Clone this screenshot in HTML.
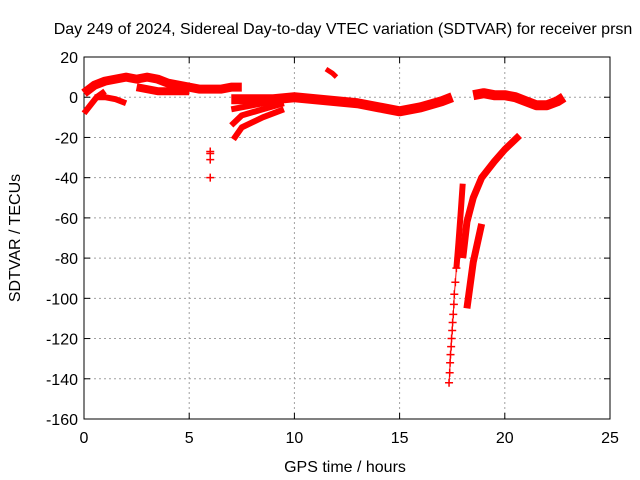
<!DOCTYPE html>
<html><head><meta charset="utf-8"><style>
body{margin:0;background:#fff}
svg{display:block;font-family:"Liberation Sans",sans-serif}
</style></head><body>
<svg id="c" width="640" height="480"></svg>
<script>
const xTicks=[0,5,10,15,20,25];
const yTicks=[20,0,-20,-40,-60,-80,-100,-120,-140,-160];
const upperT=[0,0.5,1,1.5,2,2.5,3,3.5,4,4.5,5,5.5,6,6.5,7,7.5];
const upperV=[2,6,8,9,10,9,10,9,7,6,5,4,4,4,5,5];
const lowUpT=[2.5,3,3.5,4,4.5,5];
const lowUpV=[5,4,3,3,3,3];
const branch1T=[0,0.3,0.6,1];
const branch1V=[-8,-4,0,3];
const branch2T=[0.5,1,1.5,2];
const branch2V=[0,0,-1,-3];
const mainT=[7,8,9,10,11,12,13,14,15,16,17,17.5];
const mainV=[-1,-1,-1,0,-1,-2,-3,-5,-7,-5,-2,0];
const fan1T=[7,8,9,10];
const fan1V=[-6,-4,-2,0];
const fan2T=[7,7.5,8.5,9.5];
const fan2V=[-14,-9,-6,-3];
const fan3T=[7.1,7.5,8.5,9.5];
const fan3V=[-21,-15,-10,-6];
const isoT=[11.5,11.8,12];
const isoV=[14,12,10];
const lateT=[18.5,19,19.5,20,20.5,21,21.5,22,22.5,22.8];
const lateV=[1,2,1,1,0,-2,-4,-4,-2,0];
const dotsT=[6,6,6,6];
const dotsV=[-27,-28,-31,-40];
const dipTopT=[18.0,17.9,17.8,17.7];
const dipTopV=[-43,-58,-72,-85];
const dipAT=[17.7,17.65,17.6,17.58,17.55,17.52,17.5,17.47,17.45,17.42,17.4,17.38,17.35];
const dipAV=[-85,-92,-98,-103,-108,-112,-116,-120,-124,-128,-132,-137,-142];
const dipBT=[18.0,18.2,18.5,18.9,19.5,20,20.5,20.7];
const dipBV=[-80,-62,-50,-40,-32,-26,-21,-19];
const dipCT=[18.2,18.5,18.9];
const dipCV=[-105,-82,-63];

const L=84,R=610,T=57,B=419;
const X=t=>L+(t-0)/25*(R-L);
const Y=v=>T+(20-v)/180*(B-T);
const svg=document.getElementById('c');
const NS='http://www.w3.org/2000/svg';
function mk(tag,a,p){const e=document.createElementNS(NS,tag);for(const k in a)e.setAttribute(k,a[k]);(p||svg).appendChild(e);return e;}

const grid=mk('g',{});


xTicks.forEach(t=>{
  if(t>0&&t<25) mk('line',{x1:X(t),x2:X(t),y1:T,y2:B,stroke:'#a0a0a0','stroke-dasharray':'2,3'},grid);
  mk('line',{x1:X(t),x2:X(t),y1:B,y2:B-6,stroke:'#000'},grid);
  mk('line',{x1:X(t),x2:X(t),y1:T,y2:T+6,stroke:'#000'},grid);
  const tx=mk('text',{x:X(t),y:B+24,'text-anchor':'middle','font-size':16});
  tx.textContent=t;
  
  
});
yTicks.forEach(v=>{
  if(v<20&&v>-160) mk('line',{x1:L,x2:R,y1:Y(v),y2:Y(v),stroke:'#a0a0a0','stroke-dasharray':'2,3'},grid);
  mk('line',{x1:L,x2:L+6,y1:Y(v),y2:Y(v),stroke:'#000'},grid);
  mk('line',{x1:R,x2:R-6,y1:Y(v),y2:Y(v),stroke:'#000'},grid);
  const tx=mk('text',{x:L-6,y:Y(v)+6,'text-anchor':'end','font-size':16});
  tx.textContent=v;
  
  
});
const frame=mk('rect',{x:L,y:T,width:R-L,height:B-T,fill:'none',stroke:'#000'});



function series(ts,vs,w,name,markers){
  const g=mk('g',{});
  
  
  if(ts.length>1&&w>0) mk('polyline',{points:ts.map((t,i)=>X(t)+','+Y(vs[i])).join(' '),fill:'none',stroke:'#f00','stroke-width':w,'stroke-linejoin':'round','stroke-linecap':'butt'},g);
  if(markers) ts.forEach((t,i)=>{
    const x=X(t),y=Y(vs[i]);
    mk('path',{d:`M${x-4},${y}h8M${x},${y-4}v8`,stroke:'#f00','stroke-width':1.5},g);
  });
}
series(upperT,upperV,9,'upper-band');
series(lowUpT,lowUpV,8,'upper-lower-band');
series(branch1T,branch1V,6,'early-branch');
series(branch2T,branch2V,6,'early-low-branch');
series(mainT,mainV,10,'main-band');
series(fan1T,fan1V,6,'fan-1');
series(fan2T,fan2V,6,'fan-2');
series(fan3T,fan3V,6,'fan-3');
series(isoT,isoV,5,'isolated-segment');
series(lateT,lateV,10,'late-band');
series(dotsT,dotsV,0,'isolated-points',true);
series(dipTopT,dipTopV,6,'dip-a-top');
series(dipAT,dipAV,1,'dip-a',true);
series(dipBT,dipBV,7,'dip-b');
series(dipCT,dipCV,7,'dip-c');

function txt(s,a,name){const e=mk('text',a);e.textContent=s;}
txt('Day 249 of 2024, Sidereal Day-to-day VTEC variation (SDTVAR) for receiver prsn',{x:343,y:34,'text-anchor':'middle','font-size':16},'chart-title');
txt('GPS time / hours',{x:345,y:472,'text-anchor':'middle','font-size':16},'x-axis-title');
txt('SDTVAR / TECUs',{x:20,y:238,'text-anchor':'middle','font-size':16,transform:'rotate(-90 20 238)'},'y-axis-title');
</script>
</body></html>
